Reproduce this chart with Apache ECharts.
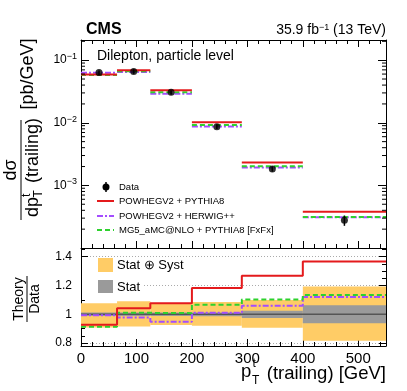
<!DOCTYPE html>
<html>
<head>
<meta charset="utf-8">
<script src="https://cdn.jsdelivr.net/npm/echarts@6.0.0/dist/echarts.min.js"></script>
<style>
html, body { margin: 0; padding: 0; background: #fff; }
#chart { width: 407px; height: 391px; }
</style>
</head>
<body>
<div id="chart"></div>
<script>
// bin edges in pT (GeV)
const binEdges = [0, 65, 125, 200, 290, 400, 550]
// measured cross section, pb/GeV
const dataXsec = [0.0635, 0.066, 0.0306, 0.00863, 0.00183, 0.000277]
// theory / data
const ratioPowPy = [0.927, 1.042, 1.077, 1.183, 1.267, 1.367]
const ratioPowHw = [0.993, 0.977, 0.949, 1.011, 1.060, 1.120]
const ratioMg5 = [0.913, 1.010, 1.008, 1.067, 1.103, 1.134]
// relative uncertainty bands (stat+syst, stat)
const totUp = [1.077, 1.090, 1.072, 1.086, 1.100, 1.192]
const totDown = [0.909, 0.916, 0.925, 0.920, 0.906, 0.816]
const statUp = [1.012, 1.012, 1.012, 1.013, 1.025, 1.062]
const statDown = [0.988, 0.988, 0.988, 0.987, 0.975, 0.937]

const xMax = 550
const font = 'Liberation Sans, Arial, Helvetica, sans-serif'
const RED = '#e41a1c', VIOLET = '#a44dff', GREEN = '#2ed12e'
const YELLOW = '#ffcc66', GREY = '#9a9a9a'

const binCenters = binEdges.slice(0, -1).map((e, i) => (e + binEdges[i + 1]) / 2)

// 2..9 x 10^n minor ticks of the log axis
const logMinorTicks = []
for (let e = -4; e <= -1; e++) {
  for (let k = 2; k <= 9; k++) {
    if (k * Math.pow(10, e) < 0.21) logMinorTicks.push(k * Math.pow(10, e))
  }
}

const chart = echarts.init(document.getElementById('chart'), null, { renderer: 'canvas' })

function predSegments(name, ratio, color, dash) {
  return {
    name: name,
    type: 'custom',
    xAxisIndex: 0,
    yAxisIndex: 0,
    z: 3,
    encode: { x: [0, 1], y: 2 },
    data: ratio.map((r, i) => [binEdges[i], binEdges[i + 1], dataXsec[i] * r]),
    renderItem: (params, api) => {
      const p1 = api.coord([api.value(0), api.value(2)])
      const p2 = api.coord([api.value(1), api.value(2)])
      return {
        type: 'line',
        shape: { x1: p1[0], y1: p1[1], x2: p2[0], y2: p2[1] },
        style: { stroke: color, lineWidth: 2, lineDash: dash }
      }
    }
  }
}

function ratioSteps(name, ratio, color, dash) {
  return {
    name: name,
    type: 'line',
    xAxisIndex: 2,
    yAxisIndex: 2,
    step: 'end',
    symbol: 'none',
    z: 4,
    lineStyle: { color: color, width: 2, type: dash || 'solid' },
    data: binEdges.map((e, i) => [e, ratio[Math.min(i, ratio.length - 1)]])
  }
}

function band(lo, hi, color, z) {
  return {
    type: 'custom',
    xAxisIndex: 2,
    yAxisIndex: 2,
    z: z,
    encode: { x: [0, 1], y: [2, 3] },
    data: lo.map((l, i) => [binEdges[i], binEdges[i + 1], l, hi[i]]),
    renderItem: (params, api) => {
      const a = api.coord([api.value(0), api.value(3)])
      const b = api.coord([api.value(1), api.value(2)])
      return {
        type: 'rect',
        shape: { x: a[0], y: a[1], width: b[0] - a[0], height: b[1] - a[1] },
        style: { fill: color }
      }
    }
  }
}

const xAxisBase = {
  type: 'value',
  min: 0,
  max: xMax,
  interval: 100,
  axisLine: { show: true, onZero: false, lineStyle: { color: '#000', width: 1 } },
  axisTick: { show: true, inside: true, length: 7, lineStyle: { color: '#000' } },
  minorTick: { show: true, splitNumber: 5, length: 4, lineStyle: { color: '#000' } },
  axisLabel: { show: false },
  splitLine: { show: false }
}

const logYBase = {
  type: 'log',
  logBase: 10,
  min: 1e-4,
  max: 0.21,
  splitNumber: 5,
  axisLine: { show: true, onZero: false, lineStyle: { color: '#000', width: 1 } },
  axisTick: { show: true, inside: true, length: 8, lineStyle: { color: '#000' } },
  minorTick: { show: false },
  splitLine: { show: false },
  axisLabel: { show: false }
}

const ratioYBase = {
  type: 'value',
  min: 0.78,
  max: 1.46,
  splitNumber: 3,
  axisLine: { show: true, onZero: false, lineStyle: { color: '#000', width: 1 } },
  axisTick: { show: true, inside: true, length: 7, lineStyle: { color: '#000' } },
  minorTick: { show: true, splitNumber: 4, length: 4, lineStyle: { color: '#000' } },
  splitLine: { show: false },
  axisLabel: { show: false }
}

const option = {
  animation: false,
  backgroundColor: '#fff',
  textStyle: { fontFamily: font },
  grid: [
    { left: 81, right: 21, top: 40, height: 208, outerBoundsMode: 'none', containLabel: false },
    { left: 81, right: 21, top: 248, height: 98, outerBoundsMode: 'none', containLabel: false }
  ],
  xAxis: [
    Object.assign({}, xAxisBase, { gridIndex: 0, position: 'bottom' }),
    Object.assign({}, xAxisBase, { gridIndex: 0, position: 'top' }),
    Object.assign({}, xAxisBase, {
      gridIndex: 1,
      position: 'bottom',
      axisLabel: {
        show: true, color: '#000', fontSize: 15, fontFamily: font, margin: 5,
        formatter: v => (v % 100 === 0 ? String(v) : '')
      }
    })
  ],
  yAxis: [
    Object.assign({}, logYBase, {
      gridIndex: 0,
      position: 'left',
      axisLabel: {
        show: true, margin: 4, color: '#000', fontFamily: font,
        formatter: v => {
          const e = Math.log10(v)
          if (Math.abs(e - Math.round(e)) > 1e-6 || Math.round(e) <= -4) return ''
          return '{b|10}{s|\u2212' + (-Math.round(e)) + '}'
        },
        rich: {
          b: { fontSize: 12, lineHeight: 16, color: '#000', fontFamily: font },
          s: { fontSize: 9, lineHeight: 9, verticalAlign: 'top', color: '#000', fontFamily: font }
        }
      }
    }),
    Object.assign({}, logYBase, { gridIndex: 0, position: 'right' }),
    Object.assign({}, ratioYBase, {
      gridIndex: 1,
      position: 'left',
      splitLine: { show: true, lineStyle: { color: '#aaa', type: [1, 2], width: 1 } },
      axisLabel: {
        show: true, margin: 9, color: '#000', fontSize: 12, fontFamily: font,
        formatter: v => {
          const r = Math.round(v * 10) / 10
          if (Math.abs(v - r) > 1e-6 || Math.round(v * 10) % 2 !== 0) return ''
          return String(r)
        }
      }
    }),
    Object.assign({}, ratioYBase, { gridIndex: 1, position: 'right' })
  ],
  series: [
    // minor ticks of the log axis (left and right frame)
    {
      type: 'custom',
      xAxisIndex: 0,
      yAxisIndex: 0,
      silent: true,
      z: 5,
      encode: { x: 0, y: 1 },
      data: logMinorTicks.map(v => [0, v]),
      renderItem: (params, api) => {
        const l = api.coord([0, api.value(1)])
        const r = api.coord([xMax, api.value(1)])
        return {
          type: 'group',
          children: [
            { type: 'line', shape: { x1: l[0], y1: l[1], x2: l[0] + 4, y2: l[1] }, style: { stroke: '#000', lineWidth: 1 } },
            { type: 'line', shape: { x1: r[0], y1: r[1], x2: r[0] - 4, y2: r[1] }, style: { stroke: '#000', lineWidth: 1 } }
          ]
        }
      }
    },
    predSegments('POWHEGV2 + HERWIG++', ratioPowHw, VIOLET, [6, 2, 2, 2]),
    predSegments('MG5_aMC@NLO + PYTHIA8 [FxFx]', ratioMg5, GREEN, [5, 3]),
    predSegments('POWHEGV2 + PYTHIA8', ratioPowPy, RED, null),
    // data error bars
    {
      type: 'custom',
      xAxisIndex: 0,
      yAxisIndex: 0,
      z: 6,
      encode: { x: 0, y: [1, 2] },
      data: binCenters.map((c, i) => [c, dataXsec[i] * totDown[i], dataXsec[i] * totUp[i]]),
      renderItem: (params, api) => {
        const a = api.coord([api.value(0), api.value(1)])
        const b = api.coord([api.value(0), api.value(2)])
        return {
          type: 'line',
          shape: { x1: a[0], y1: a[1], x2: b[0], y2: b[1] },
          style: { stroke: '#000', lineWidth: 1.5 }
        }
      }
    },
    {
      name: 'Data',
      type: 'scatter',
      xAxisIndex: 0,
      yAxisIndex: 0,
      z: 7,
      symbol: 'circle',
      symbolSize: 7,
      itemStyle: { color: '#000' },
      data: binCenters.map((c, i) => [c, dataXsec[i]])
    },
    // ratio panel
    band(totDown, totUp, YELLOW, 1),
    band(statDown, statUp, GREY, 2),
    {
      type: 'line',
      xAxisIndex: 2,
      yAxisIndex: 2,
      symbol: 'none',
      z: 3,
      lineStyle: { color: '#555', width: 1.5 },
      data: [[binEdges[0], 1], [binEdges[binEdges.length - 1], 1]]
    },
    ratioSteps('POWHEGV2 + HERWIG++', ratioPowHw, VIOLET, [6, 2, 2, 2]),
    ratioSteps('MG5_aMC@NLO + PYTHIA8 [FxFx]', ratioMg5, GREEN, [5, 3]),
    ratioSteps('POWHEGV2 + PYTHIA8', ratioPowPy, RED, null)
  ],
  graphic: [
    { type: 'text', x: 86, y: 30, style: { text: 'CMS', font: 'bold 16px ' + font, fill: '#000', verticalAlign: 'middle' } },
    {
      type: 'text', x: 386, y: 30,
      style: {
        text: '35.9 fb{s|\u22121} (13 TeV)', font: '14px ' + font, fill: '#000', align: 'right', verticalAlign: 'middle',
        rich: { s: { fontSize: 9, lineHeight: 9, verticalAlign: 'top', fill: '#000', fontFamily: font } }
      }
    },
    { type: 'text', x: 97, y: 56, style: { text: 'Dilepton, particle level', font: '14px ' + font, fill: '#000', verticalAlign: 'middle' } },
    // legend, top panel
    { type: 'line', z: 20, shape: { x1: 106, y1: 182, x2: 106, y2: 192 }, style: { stroke: '#000', lineWidth: 1.5 } },
    { type: 'circle', z: 20, shape: { cx: 106, cy: 187, r: 3.5 }, style: { fill: '#000' } },
    { type: 'text', z: 20, x: 119, y: 187, style: { text: 'Data', font: '9.5px ' + font, fill: '#000', verticalAlign: 'middle' } },
    { type: 'line', z: 20, shape: { x1: 97, y1: 201, x2: 114, y2: 201 }, style: { stroke: RED, lineWidth: 2 } },
    { type: 'text', z: 20, x: 119, y: 201, style: { text: 'POWHEGV2 + PYTHIA8', font: '9.5px ' + font, fill: '#000', verticalAlign: 'middle' } },
    { type: 'line', z: 20, shape: { x1: 97, y1: 216, x2: 114, y2: 216 }, style: { stroke: VIOLET, lineWidth: 2, lineDash: [6, 2, 2, 2] } },
    { type: 'text', z: 20, x: 119, y: 216, style: { text: 'POWHEGV2 + HERWIG++', font: '9.5px ' + font, fill: '#000', verticalAlign: 'middle' } },
    { type: 'line', z: 20, shape: { x1: 97, y1: 230, x2: 114, y2: 230 }, style: { stroke: GREEN, lineWidth: 2, lineDash: [5, 3] } },
    { type: 'text', z: 20, x: 119, y: 230, style: { text: 'MG5_aMC@NLO + PYTHIA8 [FxFx]', font: '9.5px ' + font, fill: '#000', verticalAlign: 'middle' } },
    // legend, ratio panel
    { type: 'rect', z: 10, shape: { x: 82, y: 259, width: 62, height: 35 }, style: { fill: '#fff' } },
    { type: 'rect', z: 20, shape: { x: 98, y: 258, width: 15, height: 14 }, style: { fill: YELLOW } },
    { type: 'text', z: 20, x: 117, y: 265, style: { text: 'Stat \u2295 Syst', font: '13px ' + font, fill: '#000', verticalAlign: 'middle' } },
    { type: 'rect', z: 20, shape: { x: 98, y: 280, width: 15, height: 13 }, style: { fill: GREY } },
    { type: 'text', z: 20, x: 117, y: 287, style: { text: 'Stat', font: '13px ' + font, fill: '#000', verticalAlign: 'middle' } },
    // y title, top panel
    {
      type: 'group', x: 21, y: 170, rotation: Math.PI / 2,
      children: [
        { type: 'line', shape: { x1: -50, y1: 0, x2: 50, y2: 0 }, style: { stroke: '#000', lineWidth: 1 } },
        { type: 'text', x: 0, y: -10, style: { text: 'd\u03c3', font: '18px ' + font, fill: '#000', align: 'center', verticalAlign: 'middle' } },
        { type: 'text', x: -47, y: 12, style: { text: 'dp', font: '18px ' + font, fill: '#000', verticalAlign: 'middle' } },
        { type: 'text', x: -27, y: 6, style: { text: 't', font: '12px ' + font, fill: '#000', verticalAlign: 'middle' } },
        { type: 'text', x: -27.5, y: 18, style: { text: 'T', font: '12px ' + font, fill: '#000', verticalAlign: 'middle' } },
        { type: 'text', x: -18, y: 12, style: { text: ' (trailing)', font: '18px ' + font, fill: '#000', verticalAlign: 'middle' } }
      ]
    },
    { type: 'text', x: 28, y: 74, rotation: Math.PI / 2, style: { text: '[pb/GeV]', font: '18px ' + font, fill: '#000', align: 'center', verticalAlign: 'middle' } },
    // y title, ratio panel
    {
      type: 'group', x: 27, y: 299, rotation: Math.PI / 2,
      children: [
        { type: 'line', shape: { x1: -23, y1: 0, x2: 23, y2: 0 }, style: { stroke: '#000', lineWidth: 1 } },
        { type: 'text', x: 0, y: -8, style: { text: 'Theory', font: '14px ' + font, fill: '#000', align: 'center', verticalAlign: 'middle' } },
        { type: 'text', x: 0, y: 8, style: { text: 'Data', font: '14px ' + font, fill: '#000', align: 'center', verticalAlign: 'middle' } }
      ]
    },
    // x title
    { type: 'text', x: 241, y: 372, style: { text: 'p', font: '18.5px ' + font, fill: '#000', verticalAlign: 'middle' } },
    { type: 'text', x: 252.5, y: 364, style: { text: 't', font: '12px ' + font, fill: '#000', verticalAlign: 'middle' } },
    { type: 'text', x: 252, y: 381, style: { text: 'T', font: '12px ' + font, fill: '#000', verticalAlign: 'middle' } },
    { type: 'text', x: 386, y: 374, style: { text: '(trailing) [GeV]', font: '18.5px ' + font, fill: '#000', align: 'right', verticalAlign: 'middle' } }
  ]
}

chart.setOption(option)
</script>
</body>
</html>
